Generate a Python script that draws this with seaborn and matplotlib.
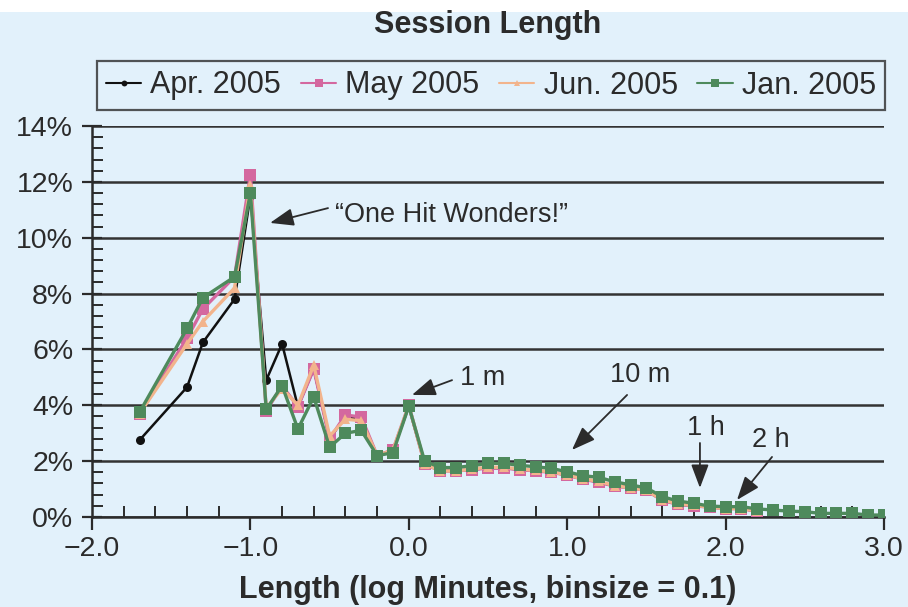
import matplotlib
matplotlib.use("Agg")
import matplotlib.pyplot as plt
from matplotlib.ticker import MultipleLocator, FuncFormatter
from matplotlib.patches import Rectangle
import pandas as pd
import seaborn as sns

# Session-length histograms (percent of sessions per log10-minute bin)
x_head = [-1.7, -1.4, -1.3, -1.1, -1.0, -0.9, -0.8, -0.7, -0.6, -0.5,
          -0.4, -0.3, -0.2, -0.1, 0.0]
x_tail_short = [0.1, 0.2, 0.3, 0.4, 0.5, 0.6, 0.7, 0.8, 0.9, 1.0, 1.1,
                1.2, 1.3, 1.4, 1.5, 1.6, 1.7, 1.8, 1.9, 2.0, 2.1, 2.2]
x_tail_long = x_tail_short + [2.3, 2.4, 2.5, 2.6, 2.7, 2.8, 2.9, 3.0]

apr_2005 = [2.75, 4.65, 6.25, 7.8, 11.5, 4.9, 6.2, 3.95, 5.3, 2.8,
            3.6, 3.5, 2.2, 2.4, 3.95,
            1.9, 1.65, 1.65, 1.7, 1.75, 1.75, 1.7, 1.65, 1.6, 1.5, 1.35,
            1.25, 1.1, 1.05, 0.95, 0.6, 0.45, 0.4, 0.35, 0.3, 0.3, 0.2]
may_2005 = [3.7, 6.4, 7.45, 8.6, 12.25, 3.8, 4.7, 3.95, 5.3, 2.8,
            3.65, 3.58, 2.2, 2.4, 4.0,
            1.9, 1.65, 1.65, 1.7, 1.75, 1.75, 1.7, 1.65, 1.6, 1.5, 1.35,
            1.25, 1.1, 1.05, 0.95, 0.6, 0.45, 0.4, 0.35, 0.3, 0.3, 0.2]
jun_2005 = [3.7, 6.2, 7.0, 8.2, 11.9, 3.9, 4.6, 4.0, 5.44, 2.9,
            3.5, 3.45, 2.2, 2.4, 4.0,
            1.9, 1.65, 1.65, 1.72, 1.78, 1.78, 1.72, 1.67, 1.62, 1.5, 1.37,
            1.28, 1.12, 1.05, 0.95, 0.62, 0.47, 0.42, 0.35, 0.3, 0.3, 0.22]
jan_2005 = [3.75, 6.75, 7.85, 8.6, 11.6, 3.85, 4.7, 3.15, 4.3, 2.5,
            3.0, 3.1, 2.2, 2.3, 3.97,
            2.0, 1.77, 1.77, 1.84, 1.92, 1.92, 1.85, 1.8, 1.74, 1.62, 1.48,
            1.42, 1.26, 1.15, 1.04, 0.73, 0.57, 0.49, 0.39, 0.37, 0.37, 0.29,
            0.25, 0.21, 0.19, 0.13, 0.13, 0.13, 0.07, 0.07]

series = [
    ("Apr. 2005", x_head + x_tail_short, apr_2005, "#111111", "o", 6.5),
    ("May 2005", x_head + x_tail_short, may_2005, "#d4689f", "s", 8.0),
    ("Jun. 2005", x_head + x_tail_short, jun_2005, "#f2b48c", "^", 6.5),
    ("Jan. 2005", x_head + x_tail_long, jan_2005, "#4e8a5c", "s", 8.0),
]

BG = "#e2f1fb"
INK = "#2b2b2b"

sns.set_theme(style="white")
plt.rcParams["font.family"] = ["Liberation Sans", "DejaVu Sans"]

fig = plt.figure(figsize=(9.08, 6.07), dpi=100, facecolor=BG)
# thin white strip along the top edge
fig.patches.append(Rectangle((0, 1 - 12 / 607), 1, 12 / 607, transform=fig.transFigure,
                             facecolor="white", edgecolor="none", zorder=0))
ax = fig.add_axes([92 / 908, 1 - 517 / 607, (884 - 92) / 908, (517 - 126) / 607])
ax.set_facecolor(BG)

for label, xs, ys, color, marker, ms in series:
    df = pd.DataFrame({"x": xs, "y": ys})
    sns.lineplot(data=df, x="x", y="y", ax=ax, color=color, marker=marker,
                 markersize=ms, markeredgewidth=0,
                 linewidth=1.8 if marker == "o" else 2.4, label=label,
                 legend=False, sort=True, zorder=3)

ax.set_xlim(-2.0, 3.0)
ax.set_ylim(0, 14)
ax.xaxis.set_major_locator(MultipleLocator(1.0))
ax.xaxis.set_minor_locator(MultipleLocator(0.2))
ax.yaxis.set_major_locator(MultipleLocator(2))
ax.yaxis.set_minor_locator(MultipleLocator(0.4))
ax.xaxis.set_major_formatter(FuncFormatter(lambda v, p: f"{v:.1f}".replace("-", "\u2212")))
ax.yaxis.set_major_formatter(FuncFormatter(lambda v, p: f"{v:.0f}%"))

ax.tick_params(axis="both", which="major", width=1.6, color=INK,
               labelsize=20.5, labelcolor=INK)
ax.tick_params(axis="x", which="major", direction="out", length=9, pad=5)
ax.tick_params(axis="y", which="major", direction="inout", length=15, pad=6)
ax.tick_params(axis="both", which="minor", direction="in", length=8, width=1.4, color=INK)
ax.tick_params(axis="x", which="both", bottom=True)
ax.tick_params(axis="y", which="both", left=True)

for side in ("top", "right"):
    ax.spines[side].set_visible(False)
for side in ("left", "bottom"):
    ax.spines[side].set_color(INK)
    ax.spines[side].set_linewidth(1.8)

ax.set_axisbelow(True)
ax.yaxis.grid(True, which="major", color="#333333", linewidth=1.8)
ax.xaxis.grid(False)

ax.set_xlabel("Length (log Minutes, binsize = 0.1)", fontsize=22, fontweight="bold",
              color=INK, labelpad=9)
ax.set_ylabel("")

fig.text(488 / 908, 1 - 25 / 607, "Session Length", ha="center", va="center",
         fontsize=22, fontweight="bold", color=INK)

handles = ax.get_lines()[:4]
leg = fig.legend(handles=handles, labels=[s[0] for s in series], loc="center",
                 ncol=4, mode="expand",
                 bbox_to_anchor=(97 / 908, 1 - 112 / 607, (885 - 97) / 908, 53 / 607),
                 fontsize=22, frameon=True, fancybox=False, handlelength=1.15,
                 handletextpad=0.3, columnspacing=0.6, borderpad=0.3,
                 borderaxespad=0, markerscale=0.65)
leg.get_frame().set_edgecolor(INK)
leg.get_frame().set_linewidth(1.6)
leg.get_frame().set_facecolor(BG)
for t in leg.get_texts():
    t.set_color(INK)
for h in leg.legend_handles:
    h.set_linewidth(1.5)

arrow = dict(arrowstyle="-|>,head_length=0.8,head_width=0.3", color=INK, lw=1.3,
             mutation_scale=18, shrinkA=0, shrinkB=0)

# callout labels
notes = [
    ("\u201cOne Hit Wonders!\u201d", -0.466, 10.81, "left"),
    ("1 m", 0.323, 4.98, "left"),
    ("10 m", 1.27, 5.08, "left"),
    ("1 h", 1.876, 3.19, "center"),
    ("2 h", 2.287, 2.76, "center"),
]
for text, tx, ty, ha in notes:
    ax.text(tx, ty, text, fontsize=19.5, color=INK, ha=ha, va="center")

# arrows: (tail, head)
pointers = [
    ((-0.51, 11.06), (-0.876, 10.53)),
    ((0.273, 4.90), (0.02, 4.37)),
    ((1.378, 4.37), (1.03, 2.40)),
    ((1.838, 2.65), (1.838, 1.04)),
    ((2.293, 2.15), (2.072, 0.61)),
]
for tail, head in pointers:
    ax.annotate("", xy=head, xytext=tail, arrowprops=arrow)

fig.savefig("out.png", dpi=100, facecolor=BG)
